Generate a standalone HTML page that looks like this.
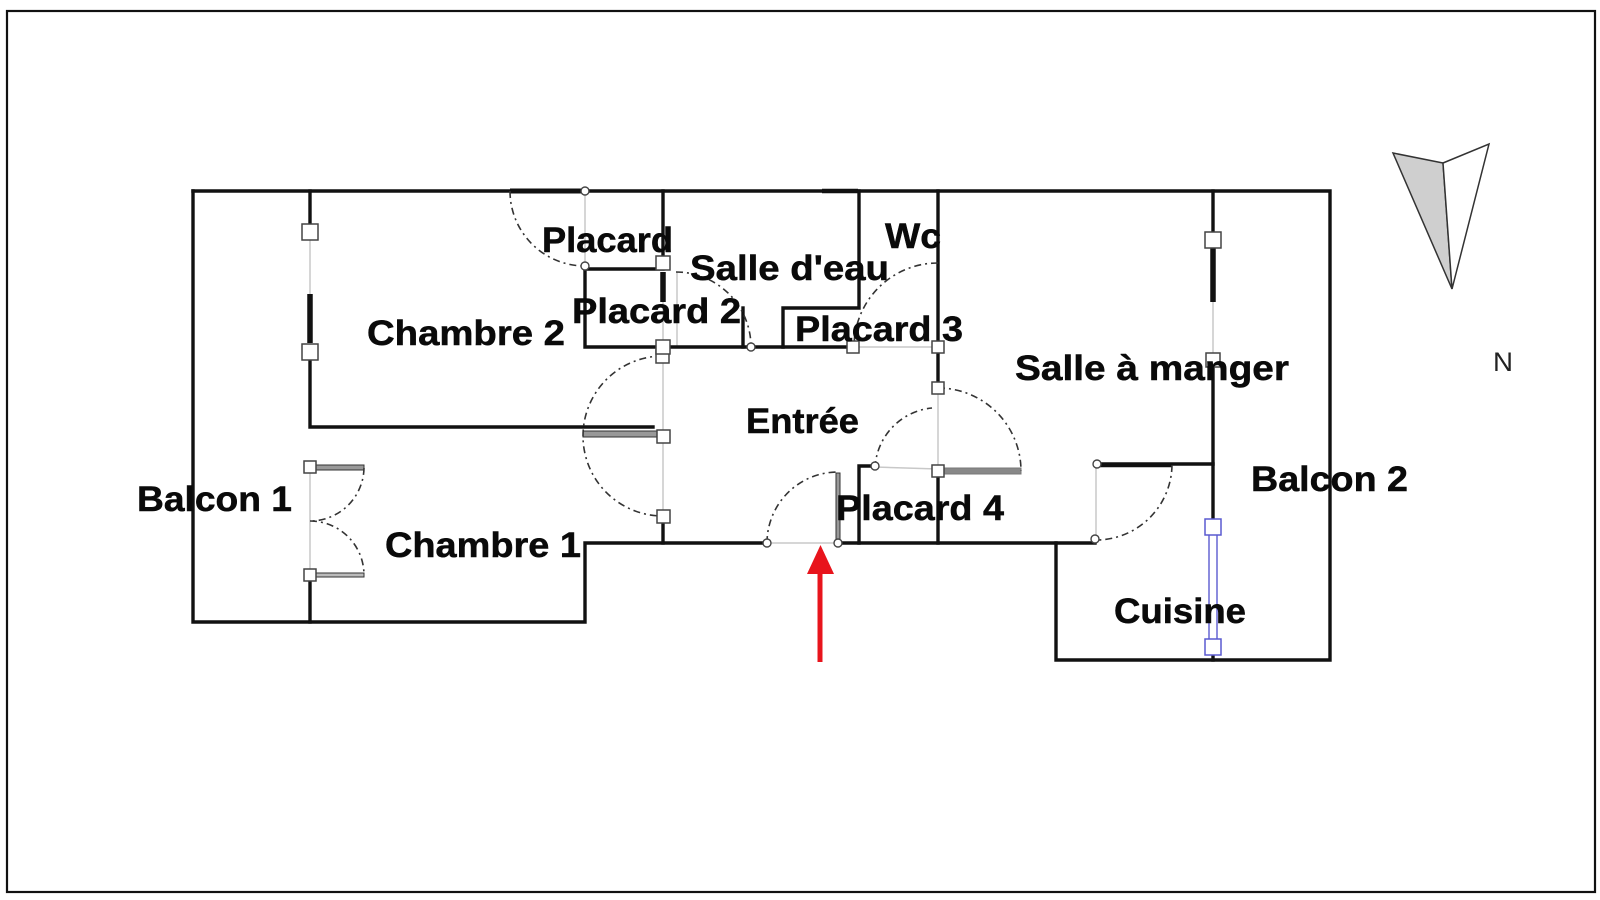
<!DOCTYPE html>
<html>
<head>
<meta charset="utf-8">
<style>
html,body{margin:0;padding:0;background:#fff;}
svg{display:block;}
.t{font-family:"Liberation Sans",sans-serif;font-weight:bold;font-size:35px;fill:#0a0a0a;stroke:#0a0a0a;stroke-width:0.5;}
</style>
</head>
<body>
<svg width="1600" height="900" viewBox="0 0 1600 900" xmlns="http://www.w3.org/2000/svg">
<rect x="0" y="0" width="1600" height="900" fill="#fff"/>
<!-- frame -->
<rect x="7" y="11" width="1588" height="881" fill="none" stroke="#111" stroke-width="2.2"/>

<!-- thin gray opening lines -->
<g stroke="#c8c8c8" stroke-width="1.5" fill="none">
  <line x1="585" y1="191" x2="585" y2="266"/>
  <line x1="677" y1="272" x2="677" y2="347"/>
  <line x1="663" y1="302" x2="663" y2="347"/>
  <line x1="663" y1="357" x2="663" y2="516"/>
  <line x1="310" y1="240" x2="310" y2="294"/>
  <line x1="310" y1="467" x2="310" y2="575"/>
  <line x1="853" y1="347" x2="938" y2="347"/>
  <line x1="938" y1="388" x2="938" y2="471"/>
  <line x1="875" y1="467" x2="938" y2="469"/>
  <line x1="767" y1="543" x2="838" y2="543"/>
  <line x1="1096" y1="464" x2="1096" y2="539"/>
  <line x1="1213" y1="302" x2="1213" y2="360"/>
</g>

<!-- walls -->
<g stroke="#111" stroke-width="3.4" fill="none" stroke-linecap="square" stroke-linejoin="miter">
  <polyline points="193,191 1330,191 1330,660 1056,660 1056,543"/>
  <polyline points="193,191 193,622 585,622 585,543 767,543"/>
  <line x1="838" y1="543" x2="1095" y2="543"/>
  <line x1="310" y1="191" x2="310" y2="225"/>
  <polyline points="310,360 310,427 653,427"/>
  <line x1="310" y1="582" x2="310" y2="622"/>
  <polyline points="585,269 663,269"/>
  <polyline points="585,269 585,347 853,347"/>
  <line x1="663" y1="191" x2="663" y2="256"/>
  <line x1="743" y1="308" x2="743" y2="347"/>
  <polyline points="859,191 859,308 783,308 783,347"/>
  <line x1="938" y1="191" x2="938" y2="341"/>
  <line x1="938" y1="353" x2="938" y2="382"/>
  <line x1="663" y1="522" x2="663" y2="543"/>
  <polyline points="875,466 859,466 859,543"/>
  <line x1="938" y1="477" x2="938" y2="543"/>
  <line x1="1213" y1="191" x2="1213" y2="232"/>
  <line x1="1213" y1="368" x2="1213" y2="519"/>
  <line x1="1097" y1="464" x2="1213" y2="464"/>
  <line x1="1213" y1="655" x2="1213" y2="660"/>
</g>
<!-- thicker segments -->
<g stroke="#111" fill="none">
  <line x1="510" y1="191" x2="585" y2="191" stroke-width="5"/>
  <line x1="822" y1="191" x2="858" y2="191" stroke-width="4.5"/>
  <line x1="310" y1="294" x2="310" y2="343" stroke-width="5.5"/>
  <line x1="663" y1="272" x2="663" y2="302" stroke-width="5.5"/>
  <line x1="1213" y1="248" x2="1213" y2="302" stroke-width="5.5"/>
  <line x1="1097" y1="465" x2="1172" y2="465" stroke-width="4.5"/>
</g>

<!-- door leaves -->
<g>
  <rect x="583" y="431" width="80" height="6" fill="#999" stroke="#333" stroke-width="1"/>
  <rect x="313" y="465" width="51" height="5" fill="#999" stroke="#333" stroke-width="1"/>
  <rect x="313" y="573" width="51" height="4" fill="#bbb" stroke="#333" stroke-width="1"/>
  <rect x="938" y="468" width="83" height="6" fill="#888" stroke="#777" stroke-width="1"/>
  <rect x="836" y="473" width="4" height="70" fill="#999" stroke="#333" stroke-width="1"/>
</g>

<!-- window (cuisine) blue -->
<g stroke="#5a5ad0" stroke-width="1.4" fill="none">
  <line x1="1209" y1="534" x2="1209" y2="640"/>
  <line x1="1217" y1="534" x2="1217" y2="640"/>
</g>

<!-- door arcs -->
<g stroke="#333" stroke-width="1.6" fill="none" stroke-dasharray="7,4,2,4">
  <path d="M510,191 A75,75 0 0,0 585,266"/>
  <path d="M676,272 A75,75 0 0,1 751,347"/>
  <path d="M938,263 A84,84 0 0,0 854,347"/>
  <path d="M663,356 A80,80 0 0,0 583,436 A80,80 0 0,0 663,516"/>
  <path d="M364,468 A54,54 0 0,1 310,521"/>
  <path d="M310,521 A54,54 0 0,1 364,575"/>
  <path d="M767,543 A71,71 0 0,1 838,472"/>
  <path d="M938,388 A83,83 0 0,1 1021,471"/>
  <path d="M875,468 A63,63 0 0,1 932,408"/>
  <path d="M1172,465 A76,76 0 0,1 1096,540"/>
</g>

<!-- hinge circles -->
<g fill="#fff" stroke="#444" stroke-width="1.4">
  <circle cx="585" cy="191" r="4"/>
  <circle cx="585" cy="266" r="4"/>
  <circle cx="751" cy="347" r="4"/>
  <circle cx="767" cy="543" r="4"/>
  <circle cx="838" cy="543" r="4"/>
  <circle cx="875" cy="466" r="4"/>
  <circle cx="1097" cy="464" r="4"/>
  <circle cx="1095" cy="539" r="4"/>
</g>

<!-- squares -->
<g fill="#fff" stroke="#444" stroke-width="1.5">
  <rect x="302" y="224" width="16" height="16"/>
  <rect x="302" y="344" width="16" height="16"/>
  <rect x="656" y="256" width="14" height="14"/>
  <rect x="656" y="350" width="13" height="13"/>
  <rect x="656" y="340" width="14" height="14"/>
  <rect x="657" y="430" width="13" height="13"/>
  <rect x="657" y="510" width="13" height="13"/>
  <rect x="847" y="341" width="12" height="12"/>
  <rect x="932" y="341" width="12" height="12"/>
  <rect x="932" y="382" width="12" height="12"/>
  <rect x="932" y="465" width="12" height="12"/>
  <rect x="304" y="461" width="12" height="12"/>
  <rect x="304" y="569" width="12" height="12"/>
  <rect x="1205" y="232" width="16" height="16"/>
  <rect x="1206" y="353" width="14" height="14"/>
</g>
<g fill="#fff" stroke="#5a5ad0" stroke-width="1.5">
  <rect x="1205" y="519" width="16" height="16"/>
  <rect x="1205" y="639" width="16" height="16"/>
</g>

<!-- red arrow -->
<g fill="#e8141c">
  <rect x="817.5" y="570" width="5" height="92"/>
  <polygon points="807,574 834,574 820.5,545"/>
</g>

<!-- compass -->
<g stroke="#333" stroke-width="1.5" stroke-linejoin="miter">
  <polygon points="1393,153 1443,163 1452,289" fill="#cfcfcf"/>
  <polygon points="1443,163 1489,144 1452,289" fill="#fff"/>
</g>
<text x="1493" y="371" font-family="Liberation Sans, sans-serif" font-size="27" fill="#222" textLength="20" lengthAdjust="spacingAndGlyphs">N</text>

<!-- labels -->
<g>
  <text class="t" x="542" y="252" textLength="131" lengthAdjust="spacingAndGlyphs">Placard</text>
  <text class="t" x="690" y="280" textLength="199" lengthAdjust="spacingAndGlyphs">Salle d'eau</text>
  <text class="t" x="885" y="248" textLength="56" lengthAdjust="spacingAndGlyphs">Wc</text>
  <text class="t" x="572" y="323" textLength="169" lengthAdjust="spacingAndGlyphs">Placard 2</text>
  <text class="t" x="367" y="345" textLength="198" lengthAdjust="spacingAndGlyphs">Chambre 2</text>
  <text class="t" x="795" y="341" textLength="168" lengthAdjust="spacingAndGlyphs">Placard 3</text>
  <text class="t" x="1015" y="380" textLength="274" lengthAdjust="spacingAndGlyphs">Salle à manger</text>
  <text class="t" x="746" y="433" textLength="113" lengthAdjust="spacingAndGlyphs">Entrée</text>
  <text class="t" x="137" y="511" textLength="155" lengthAdjust="spacingAndGlyphs">Balcon 1</text>
  <text class="t" x="1251" y="491" textLength="157" lengthAdjust="spacingAndGlyphs">Balcon 2</text>
  <text class="t" x="836" y="520" textLength="168" lengthAdjust="spacingAndGlyphs">Placard 4</text>
  <text class="t" x="385" y="557" textLength="196" lengthAdjust="spacingAndGlyphs">Chambre 1</text>
  <text class="t" x="1114" y="623" textLength="132" lengthAdjust="spacingAndGlyphs">Cuisine</text>
</g>
</svg>
</body>
</html>
